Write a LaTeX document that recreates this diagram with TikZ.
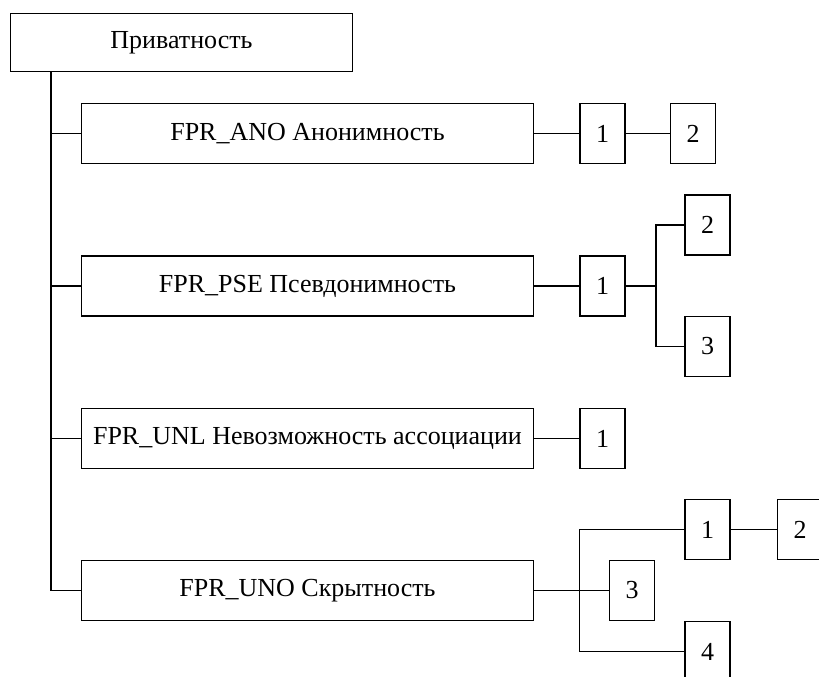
\documentclass[tikz,border=0pt]{standalone}
\usepackage{fontspec}
\setmainfont{Liberation Serif}
\usetikzlibrary{positioning, calc}
\tikzset{
  every node/.style={font=\fontsize{26}{30}\selectfont},
  link/.style={line width=1.5pt, black},
  rootbox/.style={draw, line width=1.5pt, minimum width=342pt, minimum height=58pt},
  familybox/.style={draw, line width=1.5pt, minimum width=452pt, minimum height=60pt},
  compbox/.style={draw, line width=1.5pt, minimum width=45pt, minimum height=60pt, inner sep=0pt}
}

\begin{document}
\begin{tikzpicture}[x=1pt,y=1pt]

\useasboundingbox (0,0) rectangle (819,677);
\clip (0,0) rectangle (819,677);

% Class and families
\node[rootbox] (priv) at (181.5,634.5) {Приватность};
\node[familybox] (ano) at (307.5,543.5) {FPR\_ANO Анонимность};
\node[familybox] (pse) at (307.5,391) {FPR\_PSE Псевдонимность};
\node[familybox] (unl) at (307.5,238.5) {FPR\_UNL Невозможность ассоциации};
\node[familybox] (uno) at (307.5,86.5) {FPR\_UNO Скрытность};

% Trunk
\coordinate (trunk) at ($(priv.south west)+(41,0)$);
\draw[link] (trunk) |- (uno.west);
\draw[link] (trunk |- ano.west) -- (ano.west);
\draw[link] (trunk |- pse.west) -- (pse.west);
\draw[link] (trunk |- unl.west) -- (unl.west);

% FPR_ANO components
\node[compbox, right=45pt of ano] (ano1) {1};
\node[compbox, right=44pt of ano1] (ano2) {2};
\draw[link] (ano.east) -- (ano1.west);
\draw[link] (ano1.east) -- (ano2.west);

% FPR_PSE components
\node[compbox, right=45pt of pse] (pse1) {1};
\node[compbox] (pse2) at (707.5,452) {2};
\node[compbox] (pse3) at (707.5,330.5) {3};
\draw[link] (pse.east) -- (pse1.west);
\coordinate (psej) at ($(pse1.east)+(30,0)$);
\draw[link] (pse1.east) -- (psej);
\draw[link] (psej) |- (pse2.west);
\draw[link] (psej) |- (pse3.west);

% FPR_UNL components
\node[compbox, right=45pt of unl] (unl1) {1};
\draw[link] (unl.east) -- (unl1.west);

% FPR_UNO components
\node[compbox] (uno1) at (707.5,147.5) {1};
\node[compbox, right=46pt of uno1] (uno2) {2};
\node[compbox] (uno3) at (632,86.5) {3};
\node[compbox] (uno4) at (707.5,25.5) {4};
\coordinate (unoj) at ($(uno.east)+(45,0)$);
\draw[link] (uno.east) -- (uno3.west);
\draw[link] (unoj) |- (uno1.west);
\draw[link] (unoj) |- (uno4.west);
\draw[link] (uno1.east) -- (uno2.west);

\end{tikzpicture}
\end{document}
